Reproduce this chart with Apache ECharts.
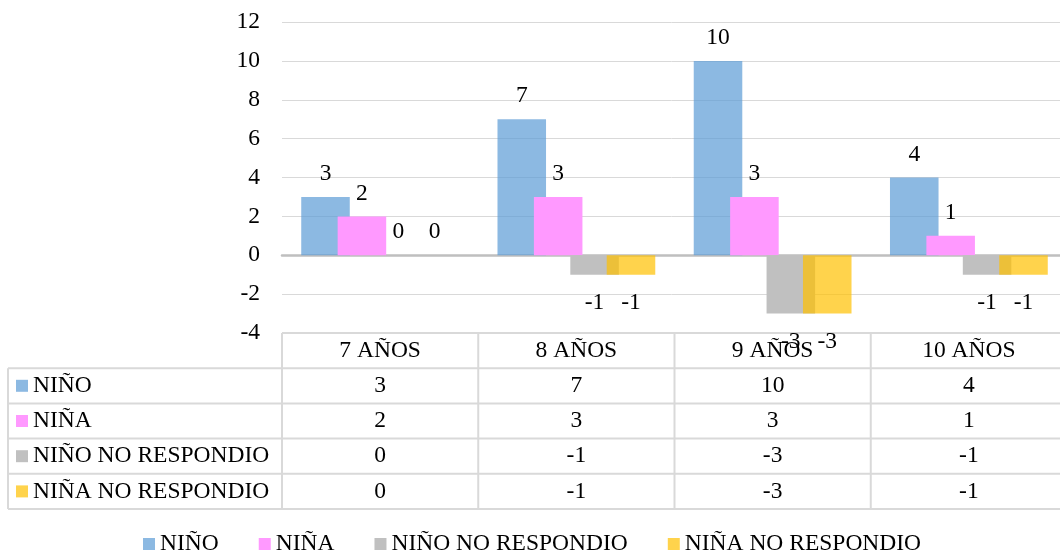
<!DOCTYPE html>
<html>
<head>
<meta charset="utf-8">
<script src="https://cdn.jsdelivr.net/npm/echarts@6/dist/echarts.min.js"></script>
<style>
  html, body { margin: 0; padding: 0; background: #ffffff; overflow: hidden; }
  #chart { width: 1060px; height: 555px; }
</style>
</head>
<body>
<div id="chart"></div>
<script>
// ---- data ----
const categories = ['7 AÑOS', '8 AÑOS', '9 AÑOS', '10 AÑOS'];
const seriesNames = ['NIÑO', 'NIÑA', 'NIÑO NO RESPONDIO', 'NIÑA NO RESPONDIO'];
const nino = [3, 7, 10, 4];
const nina = [2, 3, 3, 1];
const ninoNoResp = [0, -1, -3, -1];
const ninaNoResp = [0, -1, -3, -1];
const yTicks = [-4, -2, 0, 2, 4, 6, 8, 10, 12];

// ---- styling ----
const FONT = 'Liberation Serif';
const FS = 23.5;
const COLORS = ['rgba(91,155,213,0.7)', '#FF99FF', '#C0C0C0', 'rgba(255,192,0,0.7)'];
// the plot runs slightly past the right edge of the page
const GRID = { left: 282, width: 785, top: 22, bottom: 222, containLabel: false, outerBoundsMode: 'none' };
const ROW_H = 35.2;
const TABLE_LEFT = 8;
const BORDER = '#D9D9D9';

const seriesValues = [nino, nina, ninoNoResp, ninaNoResp];

function barData(values) {
  return values.map(v => ({
    value: v,
    label: {
      position: v < 0 ? 'bottom' : 'top',
      distance: v < 0 ? 16 : 11
    }
  }));
}

const chart = echarts.init(document.getElementById('chart'), null, { renderer: 'canvas' });

const option = {
  animation: false,
  backgroundColor: '#ffffff',
  textStyle: { fontFamily: FONT },
  grid: GRID,
  legend: {
    left: 143,
    top: 532,
    padding: 0,
    itemWidth: 12,
    itemHeight: 12,
    itemGap: 40,
    icon: 'rect',
    textStyle: { fontFamily: FONT, fontSize: FS, color: '#000000' },
    data: seriesNames
  },
  xAxis: {
    type: 'category',
    data: categories,
    axisLine: { show: true, onZero: true, lineStyle: { color: '#BFBFBF', width: 2.5 } },
    axisTick: { show: false },
    axisLabel: { show: false },
    splitLine: { show: false }
  },
  yAxis: {
    type: 'value',
    min: yTicks[0],
    max: yTicks[yTicks.length - 1],
    interval: yTicks[1] - yTicks[0],
    axisLine: { show: false },
    axisTick: { show: false },
    axisLabel: { color: '#000000', fontFamily: FONT, fontSize: FS, margin: 22 },
    splitLine: { lineStyle: { color: BORDER, width: 1 } }
  },
  series: seriesNames.map((name, i) => ({
    name: name,
    type: 'bar',
    data: barData(seriesValues[i]),
    barGap: '-25%',
    barCategoryGap: '19.6%',
    itemStyle: { color: COLORS[i] },
    label: {
      show: true,
      color: '#000000',
      fontFamily: FONT,
      fontSize: FS
    },
    z: 2 + i
  }))
};

chart.setOption(option);

// ---- data table under the plot ----
function buildTable() {
  const n = categories.length;
  const c0 = chart.convertToPixel({ xAxisIndex: 0 }, 0);
  const c1 = chart.convertToPixel({ xAxisIndex: 0 }, 1);
  const band = c1 - c0;
  const tableTop = chart.convertToPixel({ yAxisIndex: 0 }, yTicks[0]);
  const plotLeft = c0 - band / 2;
  const plotRight = plotLeft + band * n;
  const rows = seriesNames.length;
  const tableBottom = tableTop + ROW_H * (rows + 1);
  const els = [];
  const font = FS + 'px "' + FONT + '"';
  const line = (x1, y1, x2, y2) => els.push({
    type: 'line',
    shape: { x1, y1, x2, y2 },
    style: { stroke: BORDER, lineWidth: 2 },
    silent: true,
    z: 1
  });

  // horizontal borders
  line(plotLeft, tableTop, plotRight, tableTop);
  for (let r = 1; r <= rows + 1; r++) {
    const y = tableTop + ROW_H * r;
    line(TABLE_LEFT, y, plotRight, y);
  }
  // vertical borders
  line(TABLE_LEFT, tableTop + ROW_H, TABLE_LEFT, tableBottom);
  for (let c = 0; c <= n; c++) {
    const x = plotLeft + band * c;
    line(x, tableTop, x, tableBottom);
  }
  // header: category names
  categories.forEach((cat, c) => {
    els.push({
      type: 'text',
      x: plotLeft + band * (c + 0.5),
      y: tableTop + ROW_H / 2,
      style: { text: cat, fill: '#000', font: font, align: 'center', verticalAlign: 'middle' },
      silent: true, z: 1
    });
  });
  // rows: legend key, series name, values
  seriesNames.forEach((name, r) => {
    const cy = tableTop + ROW_H * (r + 1.5);
    els.push({
      type: 'rect',
      shape: { x: 16, y: cy - 6, width: 12, height: 12 },
      style: { fill: COLORS[r] },
      silent: true, z: 1
    });
    els.push({
      type: 'text',
      x: 33, y: cy,
      style: { text: name, fill: '#000', font: font, align: 'left', verticalAlign: 'middle' },
      silent: true, z: 1
    });
    seriesValues[r].forEach((v, c) => {
      els.push({
        type: 'text',
        x: plotLeft + band * (c + 0.5),
        y: cy,
        style: { text: String(v), fill: '#000', font: font, align: 'center', verticalAlign: 'middle' },
        silent: true, z: 1
      });
    });
  });
  chart.setOption({ graphic: { elements: els } });
}

buildTable();
</script>
</body>
</html>
